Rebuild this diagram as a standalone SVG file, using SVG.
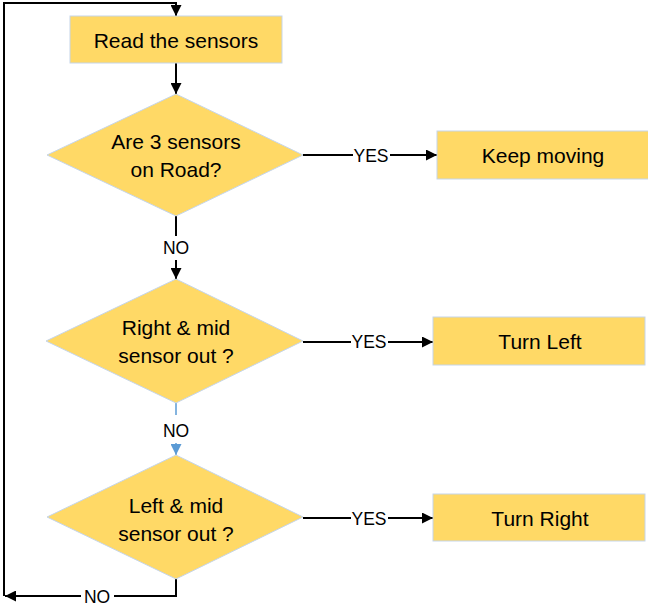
<svg xmlns="http://www.w3.org/2000/svg" width="648" height="610" viewBox="0 0 648 610">
  <defs>
    <style>
      .shape { fill: #FFD966; stroke: #C5D5EA; stroke-width: 1; }
      .txt { font-family: "Liberation Sans", Arial, sans-serif; font-size: 21px; fill: #000; text-anchor: middle; dominant-baseline: central; }
      .lbl { font-family: "Liberation Sans", Arial, sans-serif; font-size: 17.5px; fill: #000; text-anchor: middle; dominant-baseline: central; }
      .wire { fill: none; stroke: #000; stroke-width: 2; }
      .wire-blue { fill: none; stroke: #5B9BD5; stroke-width: 1.5; }
      .gap { fill: #fff; }
    </style>
    <marker id="arrow" viewBox="0 0 10 10" refX="10" refY="5" markerWidth="11" markerHeight="11" markerUnits="userSpaceOnUse" orient="auto">
      <path d="M0,0 L10,5 L0,10 z" fill="#000"/>
    </marker>
    <marker id="arrow-blue" viewBox="0 0 10 10" refX="10" refY="5" markerWidth="11" markerHeight="11" markerUnits="userSpaceOnUse" orient="auto">
      <path d="M0,0 L10,5 L0,10 z" fill="#5B9BD5"/>
    </marker>
  </defs>

  <!-- connectors -->
  <g id="connectors">
    <path class="wire" d="M4,596 V3 H176 V16" marker-end="url(#arrow)"/>
    <path class="wire" d="M176,63 V94" marker-end="url(#arrow)"/>
    <path class="wire" d="M303,155 H437" marker-end="url(#arrow)"/>
    <path class="wire" d="M176,216 V279" marker-end="url(#arrow)"/>
    <path class="wire" d="M303,342 H433" marker-end="url(#arrow)"/>
    <path class="wire-blue" d="M176,403 V455" marker-end="url(#arrow-blue)"/>
    <path class="wire" d="M303,518 H433" marker-end="url(#arrow)"/>
    <path class="wire" d="M176,579 V596 H5" marker-end="url(#arrow)"/>

    <rect class="gap" x="353" y="145" width="37" height="20"/>
    <text class="lbl" x="371" y="156">YES</text>
    <rect class="gap" x="158" y="236" width="36" height="24"/>
    <text class="lbl" x="176" y="248">NO</text>
    <rect class="gap" x="351" y="332" width="37" height="20"/>
    <text class="lbl" x="369" y="342">YES</text>
    <rect class="gap" x="158" y="415" width="36" height="28"/>
    <text class="lbl" x="176" y="431">NO</text>
    <rect class="gap" x="351" y="508" width="37" height="20"/>
    <text class="lbl" x="369" y="519">YES</text>
    <rect class="gap" x="81" y="587" width="33" height="20"/>
    <text class="lbl" x="97" y="597">NO</text>
  </g>

  <g id="read-sensors">
    <rect class="shape" x="70" y="16" width="212" height="47"/>
    <text class="txt" x="176" y="40">Read the sensors</text>
  </g>

  <g id="decision-all-on-road">
    <polygon class="shape" points="176,94 303,155 176,216 47,155"/>
    <text class="txt" x="176" y="141">Are 3 sensors</text>
    <text class="txt" x="176" y="169">on Road?</text>
  </g>

  <g id="keep-moving">
    <rect class="shape" x="437" y="131" width="212" height="48"/>
    <text class="txt" x="543" y="155">Keep moving</text>
  </g>

  <g id="decision-right-mid-out">
    <polygon class="shape" points="176,279 303,341 176,403 46,341"/>
    <text class="txt" x="176" y="327">Right &amp; mid</text>
    <text class="txt" x="176" y="355">sensor out ?</text>
  </g>

  <g id="turn-left">
    <rect class="shape" x="433" y="317" width="212" height="48"/>
    <text class="txt" x="540" y="341">Turn Left</text>
  </g>

  <g id="decision-left-mid-out">
    <polygon class="shape" points="176,455 303,517 176,579 47,517"/>
    <text class="txt" x="176" y="505">Left &amp; mid</text>
    <text class="txt" x="176" y="533">sensor out ?</text>
  </g>

  <g id="turn-right">
    <rect class="shape" x="433" y="494" width="212" height="47"/>
    <text class="txt" x="540" y="518">Turn Right</text>
  </g>
</svg>
